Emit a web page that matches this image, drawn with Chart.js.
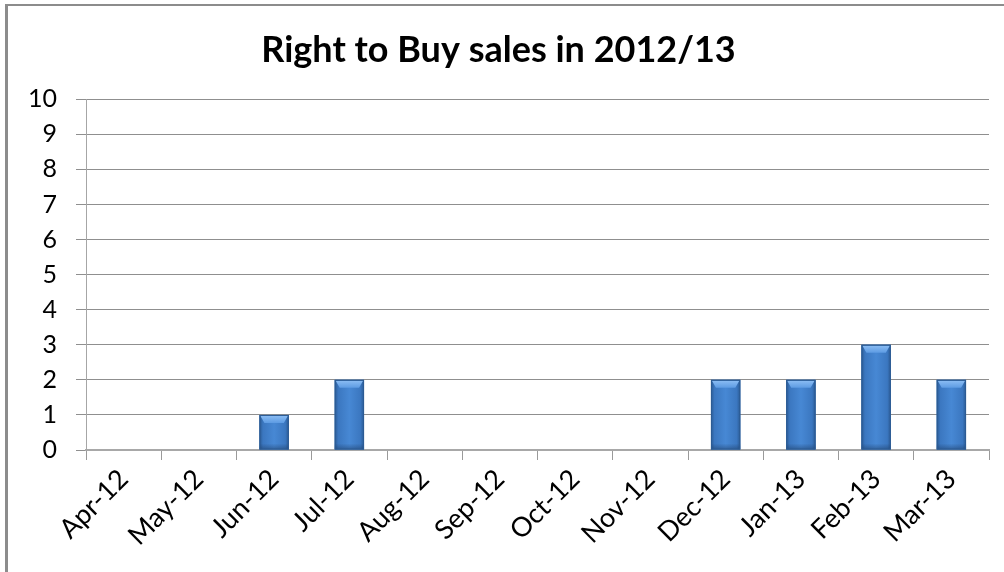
<!DOCTYPE html>
<html>
<head>
<meta charset="utf-8">
<script src="https://cdn.jsdelivr.net/npm/chart.js@4/dist/chart.umd.min.js"></script>
<style>
  html, body { margin: 0; padding: 0; background: #fff; overflow: hidden; }
  #wrap { position: relative; width: 1004px; height: 572px; }
  #frame {
    position: absolute; left: 5px; top: 4px; width: 1010px; height: 600px;
    border-left: 3px solid #8c8c8c; border-top: 2px solid #8c8c8c;
    box-sizing: border-box; pointer-events: none;
  }
  canvas { position: absolute; left: 0; top: 0; }
</style>
</head>
<body>
<div id="wrap">
  <canvas id="chart" width="1004" height="572"></canvas>
  <div id="frame"></div>
</div>
<script>
const months = ["Apr-12", "May-12", "Jun-12", "Jul-12", "Aug-12", "Sep-12",
                "Oct-12", "Nov-12", "Dec-12", "Jan-13", "Feb-13", "Mar-13"];
const sales = [0, 0, 1, 2, 0, 0, 0, 0, 2, 2, 3, 2];
const yMin = 0, yMax = 10, yStep = 1;
const titleText = "Right to Buy sales in 2012/13";

// shaded "cylinder-ish" bars like the Excel preset style
const barShade = {
  id: "barShade",
  afterDatasetsDraw(chart) {
    const ctx = chart.ctx;
    chart.getDatasetMeta(0).data.forEach(bar => {
      const { x, y, base, width } = bar.getProps(["x", "y", "base", "width"], true);
      const h = base - y;
      if (h <= 0) return;
      const l = x - width / 2, r = x + width / 2;
      ctx.save();
      const g = ctx.createLinearGradient(l, 0, r, 0);
      g.addColorStop(0, "#2a5a93");
      g.addColorStop(0.12, "#3b77c0");
      g.addColorStop(0.5, "#4788d4");
      g.addColorStop(0.88, "#3b77c0");
      g.addColorStop(1, "#2a5a93");
      ctx.fillStyle = g;
      ctx.fillRect(l, y, width, h);
      // bottom shade
      const gb = ctx.createLinearGradient(0, base - 6, 0, base);
      gb.addColorStop(0, "rgba(30,60,100,0)");
      gb.addColorStop(1, "rgba(30,60,100,0.5)");
      ctx.fillStyle = gb;
      ctx.fillRect(l, base - 6, width, 6);
      // top bevel
      const bv = Math.min(8, h / 3);
      const gt = ctx.createLinearGradient(0, y, 0, y + bv);
      gt.addColorStop(0, "#8fc0f5");
      gt.addColorStop(1, "#5d9be3");
      ctx.fillStyle = gt;
      ctx.beginPath();
      ctx.moveTo(l + 1, y + 1);
      ctx.lineTo(r - 1, y + 1);
      ctx.lineTo(r - 5, y + bv);
      ctx.lineTo(l + 5, y + bv);
      ctx.closePath();
      ctx.fill();
      ctx.strokeStyle = "#2d5c94";
      ctx.lineWidth = 1;
      ctx.strokeRect(l + 0.5, y + 0.5, width - 1, h - 1);
      ctx.restore();
    });
  }
};

new Chart(document.getElementById("chart"), {
  type: "bar",
  data: {
    labels: months,
    datasets: [{
      data: sales,
      backgroundColor: "#3d7ac4",
      borderWidth: 0,
      barPercentage: 0.39,
      categoryPercentage: 1
    }]
  },
  options: {
    responsive: false,
    animation: false,
    devicePixelRatio: 1,
    layout: { padding: { left: 8, right: 15, top: 0, bottom: 0 } },
    plugins: {
      legend: { display: false },
      tooltip: { enabled: false },
      title: {
        display: true,
        text: titleText,
        color: "#000",
        font: { family: "Lato", size: 36, weight: "bold" },
        padding: { top: 29, bottom: 27 }
      }
    },
    scales: {
      x: {
        offset: true,
        grid: {
          offset: true, drawOnChartArea: false, drawTicks: true,
          tickLength: 10, color: "#9a9a9a"
        },
        border: { display: true, color: "#a8a8a8", width: 2 },
        ticks: {
          autoSkip: false, minRotation: 45, maxRotation: 45,
          color: "#000", padding: 3,
          font: { family: "Lato", size: 27 }
        },
        afterFit: s => { s.height = 122; }
      },
      y: {
        min: yMin, max: yMax,
        grid: { color: "#8f8f8f", tickLength: 10, drawTicks: true },
        border: { display: true, color: "#a6a6a6", width: 1 },
        ticks: {
          stepSize: yStep, color: "#000", padding: 19,
          font: { family: "Lato", size: 25 }
        },
        afterFit: s => { s.width = 78; }
      }
    }
  },
  plugins: [barShade]
});
</script>
</body>
</html>
